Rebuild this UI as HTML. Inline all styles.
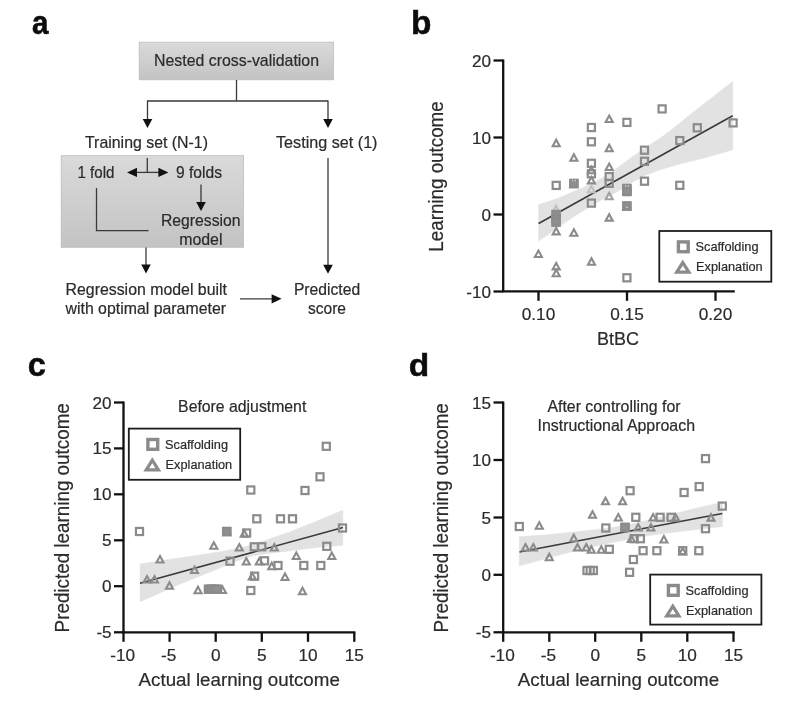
<!DOCTYPE html>
<html><head><meta charset="utf-8"><title>Figure</title>
<style>
html,body{margin:0;padding:0;background:#fff;}
body{width:799px;height:707px;overflow:hidden;}
svg{display:block;font-family:'Liberation Sans',sans-serif;}
svg text{font-family:'Liberation Sans',sans-serif;}
</style></head>
<body>
<svg width="799" height="707" viewBox="0 0 799 707" style="filter:blur(0.55px)">
<rect x="-5" y="-5" width="809" height="717" fill="#fff"/>
<defs><linearGradient id="g1" x1="0" y1="0" x2="0" y2="1"><stop offset="0" stop-color="#dadada"/><stop offset="1" stop-color="#c3c3c3"/></linearGradient></defs>
<text transform="translate(32.1,34.2) scale(0.89,1)" font-size="33.3" stroke="#0c0c0c" stroke-width="0.5" font-weight="700" fill="#0c0c0c">a</text>
<rect x="139.2" y="42.2" width="194.2" height="37.6" fill="url(#g1)" stroke="#bcbcbc" stroke-width="0.8"/>
<text x="154" y="66.2" font-size="15.9" text-anchor="start" font-weight="400" fill="#2b2b2b" stroke="#2b2b2b" stroke-width="0.2" textLength="165" lengthAdjust="spacingAndGlyphs">Nested cross-validation</text>
<path d="M236.5 80 V101 M147.5 101 H328 " stroke="#3a3a3a" stroke-width="1.3" fill="none"/>
<line x1="147.5" y1="100.4" x2="147.5" y2="120.0" stroke="#3a3a3a" stroke-width="1.3"/>
<path d="M142.7 119.0 L152.3 119.0 L147.5 128 Z" fill="#111"/>
<line x1="328" y1="100.4" x2="328" y2="120.0" stroke="#3a3a3a" stroke-width="1.3"/>
<path d="M323.2 119.0 L332.8 119.0 L328 128 Z" fill="#111"/>
<text x="85" y="147.5" font-size="15.9" text-anchor="start" font-weight="400" fill="#2b2b2b" stroke="#2b2b2b" stroke-width="0.2" textLength="123" lengthAdjust="spacingAndGlyphs">Training set (N-1)</text>
<text x="276" y="147.5" font-size="15.9" text-anchor="start" font-weight="400" fill="#2b2b2b" stroke="#2b2b2b" stroke-width="0.2" textLength="101.5" lengthAdjust="spacingAndGlyphs">Testing set (1)</text>
<rect x="61.2" y="155.7" width="182.3" height="91.6" fill="url(#g1)" stroke="#bcbcbc" stroke-width="0.8"/>
<line x1="147.3" y1="158" x2="147.3" y2="172.4" stroke="#3a3a3a" stroke-width="1.3"/>
<line x1="135" y1="172.4" x2="160" y2="172.4" stroke="#3a3a3a" stroke-width="1.3"/>
<path d="M137.0 167.8 L137.0 177.0 L127 172.4 Z" fill="#111"/>
<path d="M158.4 167.8 L158.4 177 L168.4 172.4 Z" fill="#111"/>
<text x="77.5" y="177.8" font-size="15.9" text-anchor="start" font-weight="400" fill="#2b2b2b" stroke="#2b2b2b" stroke-width="0.2" textLength="37" lengthAdjust="spacingAndGlyphs">1 fold</text>
<text x="176" y="177.8" font-size="15.9" text-anchor="start" font-weight="400" fill="#2b2b2b" stroke="#2b2b2b" stroke-width="0.2" textLength="46" lengthAdjust="spacingAndGlyphs">9 folds</text>
<line x1="201" y1="184.4" x2="201" y2="203.0" stroke="#3a3a3a" stroke-width="1.3"/>
<path d="M196.2 202.0 L205.8 202.0 L201 211 Z" fill="#111"/>
<text x="200.8" y="226.4" font-size="15.9" text-anchor="middle" font-weight="400" fill="#2b2b2b" stroke="#2b2b2b" stroke-width="0.2" textLength="79.6" lengthAdjust="spacingAndGlyphs">Regression</text>
<text x="200.8" y="245" font-size="15.9" text-anchor="middle" font-weight="400" fill="#2b2b2b" stroke="#2b2b2b" stroke-width="0.2">model</text>
<path d="M96.5 188 V230.6 H148.6" stroke="#3a3a3a" stroke-width="1.3" fill="none"/>
<line x1="146" y1="247.5" x2="146" y2="265.5" stroke="#3a3a3a" stroke-width="1.3"/>
<path d="M141.2 264.5 L150.8 264.5 L146 273.5 Z" fill="#111"/>
<text x="65.5" y="295.4" font-size="15.9" text-anchor="start" font-weight="400" fill="#2b2b2b" stroke="#2b2b2b" stroke-width="0.2" textLength="161.5" lengthAdjust="spacingAndGlyphs">Regression model built</text>
<text x="65.5" y="314.2" font-size="15.9" text-anchor="start" font-weight="400" fill="#2b2b2b" stroke="#2b2b2b" stroke-width="0.2" textLength="160.5" lengthAdjust="spacingAndGlyphs">with optimal parameter</text>
<line x1="240" y1="298.8" x2="272.6" y2="298.8" stroke="#3a3a3a" stroke-width="1.3"/>
<path d="M271.6 294.2 L271.6 303.40000000000003 L281.6 298.8 Z" fill="#111"/>
<line x1="328" y1="158" x2="328" y2="265.7" stroke="#3a3a3a" stroke-width="1.3"/>
<path d="M323.2 264.7 L332.8 264.7 L328 273.7 Z" fill="#111"/>
<text x="327" y="295.4" font-size="15.9" text-anchor="middle" font-weight="400" fill="#2b2b2b" stroke="#2b2b2b" stroke-width="0.2" textLength="66.25" lengthAdjust="spacingAndGlyphs">Predicted</text>
<text x="327" y="314.2" font-size="15.9" text-anchor="middle" font-weight="400" fill="#2b2b2b" stroke="#2b2b2b" stroke-width="0.2" textLength="38" lengthAdjust="spacingAndGlyphs">score</text>
<text transform="translate(411.0,34.4) scale(1.02,1)" font-size="32.8" stroke="#0c0c0c" stroke-width="0.5" font-weight="700" fill="#0c0c0c">b</text>
<path d="M538.6 204.6 L549.5 201.2 L560.0 197.5 L572.0 192.3 L582.6 187.8 L591.6 183.8 L600.6 178.8 L611.0 172.3 L620.0 166.0 L630.0 158.5 L645.0 148.0 L660.0 138.3 L670.6 130.5 L687.2 117.0 L709.6 99.5 L732.7 81.4 L732.7 149.8 L720.0 153.5 L705.0 157.8 L690.0 161.5 L675.0 165.3 L660.0 169.8 L645.0 175.5 L630.0 183.5 L620.0 190.0 L611.0 195.0 L600.6 200.3 L591.6 205.8 L582.6 211.1 L572.0 217.8 L560.0 226.1 L549.5 233.6 L538.6 241.0 Z" fill="#e2e2e2" stroke="#e2e2e2" stroke-width="0.6" stroke-linejoin="round"/>
<line x1="538.6" y1="223.5" x2="732.7" y2="115.7" stroke="#3a3a3a" stroke-width="1.6"/>
<path d="M503.2 59.4 V292.4 M502.1 291.3 H734.8" stroke="#111" stroke-width="2.3" fill="none"/>
<line x1="493.5" y1="60.5" x2="503.2" y2="60.5" stroke="#111" stroke-width="2.3"/>
<text x="491" y="66.5" font-size="17.1" text-anchor="end" font-weight="400" fill="#2b2b2b" stroke="#2b2b2b" stroke-width="0.2">20</text>
<line x1="493.5" y1="137.5" x2="503.2" y2="137.5" stroke="#111" stroke-width="2.3"/>
<text x="491" y="143.5" font-size="17.1" text-anchor="end" font-weight="400" fill="#2b2b2b" stroke="#2b2b2b" stroke-width="0.2">10</text>
<line x1="493.5" y1="214.5" x2="503.2" y2="214.5" stroke="#111" stroke-width="2.3"/>
<text x="491" y="220.5" font-size="17.1" text-anchor="end" font-weight="400" fill="#2b2b2b" stroke="#2b2b2b" stroke-width="0.2">0</text>
<line x1="493.5" y1="291.5" x2="503.2" y2="291.5" stroke="#111" stroke-width="2.3"/>
<text x="491" y="297.5" font-size="17.1" text-anchor="end" font-weight="400" fill="#2b2b2b" stroke="#2b2b2b" stroke-width="0.2">-10</text>
<line x1="538.5" y1="291.3" x2="538.5" y2="300.8" stroke="#111" stroke-width="2.3"/>
<text x="538.5" y="319.5" font-size="17.2" text-anchor="middle" font-weight="400" fill="#2b2b2b" stroke="#2b2b2b" stroke-width="0.2">0.10</text>
<line x1="627" y1="291.3" x2="627" y2="300.8" stroke="#111" stroke-width="2.3"/>
<text x="627" y="319.5" font-size="17.2" text-anchor="middle" font-weight="400" fill="#2b2b2b" stroke="#2b2b2b" stroke-width="0.2">0.15</text>
<line x1="715.5" y1="291.3" x2="715.5" y2="300.8" stroke="#111" stroke-width="2.3"/>
<text x="715.5" y="319.5" font-size="17.2" text-anchor="middle" font-weight="400" fill="#2b2b2b" stroke="#2b2b2b" stroke-width="0.2">0.20</text>
<text x="618" y="345" font-size="18.8" text-anchor="middle" font-weight="400" fill="#2b2b2b" stroke="#2b2b2b" stroke-width="0.2" textLength="42" lengthAdjust="spacingAndGlyphs">BtBC</text>
<text transform="translate(443.1,176.5) rotate(-90)" font-size="19.5" text-anchor="middle" fill="#2b2b2b" stroke="#2b2b2b" stroke-width="0.2" textLength="150.4" lengthAdjust="spacingAndGlyphs">Learning outcome</text>
<path d="M609.20 192.80 L612.72 199.25 L605.69 199.25 Z" fill="none" stroke="#a2a2a2" stroke-width="2.1" stroke-linejoin="miter"/>
<rect x="552.65" y="181.85" width="7.10" height="7.10" fill="none" stroke="#8b8b8b" stroke-width="2.2"/>
<rect x="570.35" y="179.95" width="7.10" height="7.10" fill="none" stroke="#8b8b8b" stroke-width="2.2"/>
<rect x="587.85" y="123.95" width="7.10" height="7.10" fill="none" stroke="#8b8b8b" stroke-width="2.2"/>
<rect x="587.85" y="138.25" width="7.10" height="7.10" fill="none" stroke="#8b8b8b" stroke-width="2.2"/>
<rect x="587.85" y="159.75" width="7.10" height="7.10" fill="none" stroke="#8b8b8b" stroke-width="2.2"/>
<rect x="587.85" y="170.25" width="7.10" height="7.10" fill="none" stroke="#8b8b8b" stroke-width="2.2"/>
<rect x="587.85" y="199.55" width="7.10" height="7.10" fill="none" stroke="#8b8b8b" stroke-width="2.2"/>
<rect x="605.65" y="173.05" width="7.10" height="7.10" fill="none" stroke="#8b8b8b" stroke-width="2.2"/>
<rect x="605.65" y="179.75" width="7.10" height="7.10" fill="none" stroke="#8b8b8b" stroke-width="2.2"/>
<rect x="623.35" y="118.85" width="7.10" height="7.10" fill="none" stroke="#8b8b8b" stroke-width="2.2"/>
<rect x="623.35" y="184.95" width="7.10" height="7.10" fill="none" stroke="#8b8b8b" stroke-width="2.2"/>
<rect x="623.35" y="187.95" width="7.10" height="7.10" fill="none" stroke="#8b8b8b" stroke-width="2.2"/>
<rect x="623.35" y="202.45" width="7.10" height="7.10" fill="none" stroke="#8b8b8b" stroke-width="2.2"/>
<rect x="640.95" y="146.65" width="7.10" height="7.10" fill="none" stroke="#8b8b8b" stroke-width="2.2"/>
<rect x="640.95" y="157.75" width="7.10" height="7.10" fill="none" stroke="#8b8b8b" stroke-width="2.2"/>
<rect x="640.95" y="177.65" width="7.10" height="7.10" fill="none" stroke="#8b8b8b" stroke-width="2.2"/>
<rect x="658.55" y="105.35" width="7.10" height="7.10" fill="none" stroke="#8b8b8b" stroke-width="2.2"/>
<rect x="676.25" y="137.05" width="7.10" height="7.10" fill="none" stroke="#8b8b8b" stroke-width="2.2"/>
<rect x="676.25" y="181.75" width="7.10" height="7.10" fill="none" stroke="#8b8b8b" stroke-width="2.2"/>
<rect x="693.75" y="124.25" width="7.10" height="7.10" fill="none" stroke="#8b8b8b" stroke-width="2.2"/>
<rect x="729.55" y="119.35" width="7.10" height="7.10" fill="none" stroke="#8b8b8b" stroke-width="2.2"/>
<rect x="623.35" y="274.25" width="7.10" height="7.10" fill="none" stroke="#8b8b8b" stroke-width="2.2"/>
<rect x="552.55" y="210.95" width="7.10" height="7.10" fill="none" stroke="#8b8b8b" stroke-width="2.2"/>
<rect x="552.55" y="214.85" width="7.10" height="7.10" fill="none" stroke="#8b8b8b" stroke-width="2.2"/>
<rect x="552.55" y="218.45" width="7.10" height="7.10" fill="none" stroke="#8b8b8b" stroke-width="2.2"/>
<path d="M556.20 139.80 L559.72 146.25 L552.69 146.25 Z" fill="none" stroke="#8b8b8b" stroke-width="2.1" stroke-linejoin="miter"/>
<path d="M573.90 154.30 L577.41 160.75 L570.38 160.75 Z" fill="none" stroke="#8b8b8b" stroke-width="2.1" stroke-linejoin="miter"/>
<path d="M609.20 115.60 L612.72 122.05 L605.69 122.05 Z" fill="none" stroke="#8b8b8b" stroke-width="2.1" stroke-linejoin="miter"/>
<path d="M609.20 144.80 L612.72 151.25 L605.69 151.25 Z" fill="none" stroke="#8b8b8b" stroke-width="2.1" stroke-linejoin="miter"/>
<path d="M609.20 163.60 L612.72 170.05 L605.69 170.05 Z" fill="none" stroke="#8b8b8b" stroke-width="2.1" stroke-linejoin="miter"/>
<path d="M591.40 166.80 L594.91 173.25 L587.88 173.25 Z" fill="none" stroke="#8b8b8b" stroke-width="2.1" stroke-linejoin="miter"/>
<path d="M591.40 176.90 L594.91 183.35 L587.88 183.35 Z" fill="none" stroke="#8b8b8b" stroke-width="2.1" stroke-linejoin="miter"/>
<path d="M609.20 214.20 L612.72 220.65 L605.69 220.65 Z" fill="none" stroke="#8b8b8b" stroke-width="2.1" stroke-linejoin="miter"/>
<path d="M556.20 227.90 L559.72 234.35 L552.69 234.35 Z" fill="none" stroke="#8b8b8b" stroke-width="2.1" stroke-linejoin="miter"/>
<path d="M573.90 229.30 L577.41 235.75 L570.38 235.75 Z" fill="none" stroke="#8b8b8b" stroke-width="2.1" stroke-linejoin="miter"/>
<path d="M538.40 250.60 L541.91 257.05 L534.88 257.05 Z" fill="none" stroke="#8b8b8b" stroke-width="2.1" stroke-linejoin="miter"/>
<path d="M556.20 262.90 L559.72 269.35 L552.69 269.35 Z" fill="none" stroke="#8b8b8b" stroke-width="2.1" stroke-linejoin="miter"/>
<path d="M556.20 269.80 L559.72 276.25 L552.69 276.25 Z" fill="none" stroke="#8b8b8b" stroke-width="2.1" stroke-linejoin="miter"/>
<path d="M591.50 258.30 L595.01 264.75 L587.99 264.75 Z" fill="none" stroke="#8b8b8b" stroke-width="2.1" stroke-linejoin="miter"/>
<path d="M573.90 180.80 L577.41 187.25 L570.38 187.25 Z" fill="none" stroke="#8b8b8b" stroke-width="2.1" stroke-linejoin="miter"/>
<path d="M626.90 187.30 L630.41 193.75 L623.38 193.75 Z" fill="none" stroke="#8b8b8b" stroke-width="2.1" stroke-linejoin="miter"/>
<path d="M626.90 203.30 L630.41 209.75 L623.38 209.75 Z" fill="none" stroke="#8b8b8b" stroke-width="2.1" stroke-linejoin="miter"/>
<path d="M591.40 186.00 L594.91 192.45 L587.88 192.45 Z" fill="none" stroke="#c0c0c0" stroke-width="2.1" stroke-linejoin="miter"/>
<path d="M556.10 205.80 L559.62 212.25 L552.59 212.25 Z" fill="none" stroke="#c0c0c0" stroke-width="2.1" stroke-linejoin="miter"/>
<rect x="570.35" y="179.95" width="7.10" height="7.10" fill="#8f8f8f" stroke="#8b8b8b" stroke-width="2.2"/>
<rect x="623.35" y="184.95" width="7.10" height="7.10" fill="#8f8f8f" stroke="#8b8b8b" stroke-width="2.2"/>
<rect x="623.35" y="187.95" width="7.10" height="7.10" fill="#8f8f8f" stroke="#8b8b8b" stroke-width="2.2"/>
<rect x="623.35" y="202.45" width="7.10" height="7.10" fill="#8f8f8f" stroke="#8b8b8b" stroke-width="2.2"/>
<rect x="552.55" y="210.95" width="7.10" height="7.10" fill="#8f8f8f" stroke="#8b8b8b" stroke-width="2.2"/>
<rect x="552.55" y="214.85" width="7.10" height="7.10" fill="#8f8f8f" stroke="#8b8b8b" stroke-width="2.2"/>
<rect x="552.55" y="218.45" width="7.10" height="7.10" fill="#8f8f8f" stroke="#8b8b8b" stroke-width="2.2"/>
<path d="M572.6 180.6h0.1M575.2 180.6h0.1M625.6 186h0.1M628.2 186h0.1M626.9 207.4h0.1" stroke="#e8e8e8" stroke-width="1.3" stroke-linecap="round"/>
<rect x="659.3" y="231" width="112" height="50.7" fill="#fff" stroke="#1c1c1c" stroke-width="1.8"/>
<rect x="678.40" y="241.90" width="9.80" height="9.80" fill="none" stroke="#8b8b8b" stroke-width="3.4"/>
<path d="M682.80 262.60 L688.90 272.20 L676.70 272.20 Z" fill="none" stroke="#8b8b8b" stroke-width="3.2"/>
<text x="695.5" y="251.3" font-size="13.3" text-anchor="start" font-weight="400" fill="#2b2b2b" stroke="#2b2b2b" stroke-width="0.2" textLength="63" lengthAdjust="spacingAndGlyphs">Scaffolding</text>
<text x="696.0999999999999" y="271.2" font-size="13.3" text-anchor="start" font-weight="400" fill="#2b2b2b" stroke="#2b2b2b" stroke-width="0.2" textLength="66.6" lengthAdjust="spacingAndGlyphs">Explanation</text>
<text transform="translate(27.7,376.0) scale(0.99,1)" font-size="33" stroke="#0c0c0c" stroke-width="0.5" font-weight="700" fill="#0c0c0c">c</text>
<path d="M140.1 564.0 L167.4 559.7 L196.2 555.6 L225.0 551.0 L245.1 546.7 L265.3 540.4 L288.3 532.6 L314.2 522.2 L342.8 510.2 L342.8 545.3 L320.0 547.0 L297.0 549.9 L273.9 552.8 L253.8 555.6 L233.6 562.0 L219.2 568.3 L199.1 576.4 L178.9 584.4 L158.8 593.6 L140.1 601.7 Z" fill="#e2e2e2" stroke="#e2e2e2" stroke-width="0.6" stroke-linejoin="round"/>
<line x1="140" y1="583.3" x2="343" y2="527.5" stroke="#3a3a3a" stroke-width="1.6"/>
<path d="M123.5 401.5 V633.4 M122.4 632.4 H355.4" stroke="#111" stroke-width="2.3" fill="none"/>
<line x1="114" y1="402.5" x2="123.5" y2="402.5" stroke="#111" stroke-width="2.3"/>
<text x="111.6" y="408.5" font-size="17.1" text-anchor="end" font-weight="400" fill="#2b2b2b" stroke="#2b2b2b" stroke-width="0.2">20</text>
<line x1="114" y1="448.4" x2="123.5" y2="448.4" stroke="#111" stroke-width="2.3"/>
<text x="111.6" y="454.4" font-size="17.1" text-anchor="end" font-weight="400" fill="#2b2b2b" stroke="#2b2b2b" stroke-width="0.2">15</text>
<line x1="114" y1="494.3" x2="123.5" y2="494.3" stroke="#111" stroke-width="2.3"/>
<text x="111.6" y="500.3" font-size="17.1" text-anchor="end" font-weight="400" fill="#2b2b2b" stroke="#2b2b2b" stroke-width="0.2">10</text>
<line x1="114" y1="540.3" x2="123.5" y2="540.3" stroke="#111" stroke-width="2.3"/>
<text x="111.6" y="546.3" font-size="17.1" text-anchor="end" font-weight="400" fill="#2b2b2b" stroke="#2b2b2b" stroke-width="0.2">5</text>
<line x1="114" y1="586.2" x2="123.5" y2="586.2" stroke="#111" stroke-width="2.3"/>
<text x="111.6" y="592.2" font-size="17.1" text-anchor="end" font-weight="400" fill="#2b2b2b" stroke="#2b2b2b" stroke-width="0.2">0</text>
<line x1="114" y1="632.3" x2="123.5" y2="632.3" stroke="#111" stroke-width="2.3"/>
<text x="111.6" y="638.3" font-size="17.1" text-anchor="end" font-weight="400" fill="#2b2b2b" stroke="#2b2b2b" stroke-width="0.2">-5</text>
<line x1="123.5" y1="632.4" x2="123.5" y2="641.8" stroke="#111" stroke-width="2.3"/>
<text x="122.6" y="661.2" font-size="17.2" text-anchor="middle" font-weight="400" fill="#2b2b2b" stroke="#2b2b2b" stroke-width="0.2">-10</text>
<line x1="169.6" y1="632.4" x2="169.6" y2="641.8" stroke="#111" stroke-width="2.3"/>
<text x="168.7" y="661.2" font-size="17.2" text-anchor="middle" font-weight="400" fill="#2b2b2b" stroke="#2b2b2b" stroke-width="0.2">-5</text>
<line x1="215.7" y1="632.4" x2="215.7" y2="641.8" stroke="#111" stroke-width="2.3"/>
<text x="215.7" y="661.2" font-size="17.2" text-anchor="middle" font-weight="400" fill="#2b2b2b" stroke="#2b2b2b" stroke-width="0.2">0</text>
<line x1="261.8" y1="632.4" x2="261.8" y2="641.8" stroke="#111" stroke-width="2.3"/>
<text x="261.8" y="661.2" font-size="17.2" text-anchor="middle" font-weight="400" fill="#2b2b2b" stroke="#2b2b2b" stroke-width="0.2">5</text>
<line x1="308" y1="632.4" x2="308" y2="641.8" stroke="#111" stroke-width="2.3"/>
<text x="308" y="661.2" font-size="17.2" text-anchor="middle" font-weight="400" fill="#2b2b2b" stroke="#2b2b2b" stroke-width="0.2">10</text>
<line x1="354.3" y1="632.4" x2="354.3" y2="641.8" stroke="#111" stroke-width="2.3"/>
<text x="354.3" y="661.2" font-size="17.2" text-anchor="middle" font-weight="400" fill="#2b2b2b" stroke="#2b2b2b" stroke-width="0.2">15</text>
<text x="239.2" y="686.3" font-size="19.1" text-anchor="middle" font-weight="400" fill="#2b2b2b" stroke="#2b2b2b" stroke-width="0.2" textLength="201.3" lengthAdjust="spacingAndGlyphs">Actual learning outcome</text>
<text transform="translate(69.0,517.8) rotate(-90)" font-size="19.4" text-anchor="middle" fill="#2b2b2b" stroke="#2b2b2b" stroke-width="0.2" textLength="229.2" lengthAdjust="spacingAndGlyphs">Predicted learning outcome</text>
<text x="242.2" y="412.3" font-size="15.9" text-anchor="middle" font-weight="400" fill="#2b2b2b" stroke="#2b2b2b" stroke-width="0.2" textLength="128.2" lengthAdjust="spacingAndGlyphs">Before adjustment</text>
<rect x="135.95" y="527.95" width="7.10" height="7.10" fill="none" stroke="#8b8b8b" stroke-width="2.2"/>
<rect x="322.75" y="442.75" width="7.10" height="7.10" fill="none" stroke="#8b8b8b" stroke-width="2.2"/>
<rect x="316.45" y="473.25" width="7.10" height="7.10" fill="none" stroke="#8b8b8b" stroke-width="2.2"/>
<rect x="247.25" y="486.45" width="7.10" height="7.10" fill="none" stroke="#8b8b8b" stroke-width="2.2"/>
<rect x="301.45" y="486.95" width="7.10" height="7.10" fill="none" stroke="#8b8b8b" stroke-width="2.2"/>
<rect x="253.25" y="515.25" width="7.10" height="7.10" fill="none" stroke="#8b8b8b" stroke-width="2.2"/>
<rect x="276.95" y="515.25" width="7.10" height="7.10" fill="none" stroke="#8b8b8b" stroke-width="2.2"/>
<rect x="288.95" y="515.25" width="7.10" height="7.10" fill="none" stroke="#8b8b8b" stroke-width="2.2"/>
<rect x="338.95" y="524.45" width="7.10" height="7.10" fill="none" stroke="#8b8b8b" stroke-width="2.2"/>
<rect x="223.25" y="527.95" width="7.10" height="7.10" fill="none" stroke="#8b8b8b" stroke-width="2.2"/>
<rect x="243.05" y="529.45" width="7.10" height="7.10" fill="none" stroke="#8b8b8b" stroke-width="2.2"/>
<rect x="250.75" y="543.25" width="7.10" height="7.10" fill="none" stroke="#8b8b8b" stroke-width="2.2"/>
<rect x="258.25" y="543.25" width="7.10" height="7.10" fill="none" stroke="#8b8b8b" stroke-width="2.2"/>
<rect x="323.25" y="542.75" width="7.10" height="7.10" fill="none" stroke="#8b8b8b" stroke-width="2.2"/>
<rect x="226.45" y="557.65" width="7.10" height="7.10" fill="none" stroke="#8b8b8b" stroke-width="2.2"/>
<rect x="260.95" y="557.25" width="7.10" height="7.10" fill="none" stroke="#8b8b8b" stroke-width="2.2"/>
<rect x="274.45" y="561.95" width="7.10" height="7.10" fill="none" stroke="#8b8b8b" stroke-width="2.2"/>
<rect x="300.25" y="561.95" width="7.10" height="7.10" fill="none" stroke="#8b8b8b" stroke-width="2.2"/>
<rect x="317.25" y="561.95" width="7.10" height="7.10" fill="none" stroke="#8b8b8b" stroke-width="2.2"/>
<rect x="251.05" y="572.65" width="7.10" height="7.10" fill="none" stroke="#8b8b8b" stroke-width="2.2"/>
<rect x="247.25" y="586.95" width="7.10" height="7.10" fill="none" stroke="#8b8b8b" stroke-width="2.2"/>
<rect x="204.95" y="585.75" width="7.10" height="7.10" fill="none" stroke="#8b8b8b" stroke-width="2.2"/>
<rect x="207.95" y="585.75" width="7.10" height="7.10" fill="none" stroke="#8b8b8b" stroke-width="2.2"/>
<rect x="210.95" y="585.75" width="7.10" height="7.10" fill="none" stroke="#8b8b8b" stroke-width="2.2"/>
<rect x="213.95" y="585.75" width="7.10" height="7.10" fill="none" stroke="#8b8b8b" stroke-width="2.2"/>
<path d="M160.00 556.10 L163.51 562.55 L156.49 562.55 Z" fill="none" stroke="#8b8b8b" stroke-width="2.1" stroke-linejoin="miter"/>
<path d="M147.00 576.10 L150.51 582.55 L143.49 582.55 Z" fill="none" stroke="#8b8b8b" stroke-width="2.1" stroke-linejoin="miter"/>
<path d="M154.50 576.10 L158.01 582.55 L150.99 582.55 Z" fill="none" stroke="#8b8b8b" stroke-width="2.1" stroke-linejoin="miter"/>
<path d="M169.50 582.30 L173.01 588.75 L165.99 588.75 Z" fill="none" stroke="#8b8b8b" stroke-width="2.1" stroke-linejoin="miter"/>
<path d="M194.50 566.60 L198.01 573.05 L190.99 573.05 Z" fill="none" stroke="#8b8b8b" stroke-width="2.1" stroke-linejoin="miter"/>
<path d="M198.00 586.80 L201.51 593.25 L194.49 593.25 Z" fill="none" stroke="#8b8b8b" stroke-width="2.1" stroke-linejoin="miter"/>
<path d="M222.50 586.60 L226.01 593.05 L218.99 593.05 Z" fill="none" stroke="#8b8b8b" stroke-width="2.1" stroke-linejoin="miter"/>
<path d="M213.80 542.30 L217.31 548.75 L210.29 548.75 Z" fill="none" stroke="#8b8b8b" stroke-width="2.1" stroke-linejoin="miter"/>
<path d="M239.30 544.10 L242.81 550.55 L235.79 550.55 Z" fill="none" stroke="#8b8b8b" stroke-width="2.1" stroke-linejoin="miter"/>
<path d="M244.30 530.30 L247.81 536.75 L240.79 536.75 Z" fill="none" stroke="#8b8b8b" stroke-width="2.1" stroke-linejoin="miter"/>
<path d="M274.30 544.10 L277.81 550.55 L270.79 550.55 Z" fill="none" stroke="#8b8b8b" stroke-width="2.1" stroke-linejoin="miter"/>
<path d="M296.30 552.50 L299.81 558.95 L292.79 558.95 Z" fill="none" stroke="#8b8b8b" stroke-width="2.1" stroke-linejoin="miter"/>
<path d="M331.80 552.50 L335.31 558.95 L328.29 558.95 Z" fill="none" stroke="#8b8b8b" stroke-width="2.1" stroke-linejoin="miter"/>
<path d="M246.30 558.10 L249.81 564.55 L242.79 564.55 Z" fill="none" stroke="#8b8b8b" stroke-width="2.1" stroke-linejoin="miter"/>
<path d="M259.30 558.10 L262.81 564.55 L255.79 564.55 Z" fill="none" stroke="#8b8b8b" stroke-width="2.1" stroke-linejoin="miter"/>
<path d="M271.80 562.80 L275.31 569.25 L268.29 569.25 Z" fill="none" stroke="#8b8b8b" stroke-width="2.1" stroke-linejoin="miter"/>
<path d="M285.00 573.50 L288.51 579.95 L281.49 579.95 Z" fill="none" stroke="#8b8b8b" stroke-width="2.1" stroke-linejoin="miter"/>
<path d="M252.30 572.90 L255.81 579.35 L248.79 579.35 Z" fill="none" stroke="#8b8b8b" stroke-width="2.1" stroke-linejoin="miter"/>
<path d="M302.50 587.80 L306.01 594.25 L298.99 594.25 Z" fill="none" stroke="#8b8b8b" stroke-width="2.1" stroke-linejoin="miter"/>
<path d="M226.80 528.80 L230.31 535.25 L223.29 535.25 Z" fill="none" stroke="#8b8b8b" stroke-width="2.1" stroke-linejoin="miter"/>
<rect x="223.25" y="527.95" width="7.10" height="7.10" fill="#909090" stroke="#8b8b8b" stroke-width="2.2"/>
<rect x="204.95" y="585.75" width="7.10" height="7.10" fill="#909090" stroke="#8b8b8b" stroke-width="2.2"/>
<rect x="207.95" y="585.75" width="7.10" height="7.10" fill="#909090" stroke="#8b8b8b" stroke-width="2.2"/>
<rect x="210.95" y="585.75" width="7.10" height="7.10" fill="#909090" stroke="#8b8b8b" stroke-width="2.2"/>
<rect x="213.95" y="585.75" width="7.10" height="7.10" fill="#909090" stroke="#8b8b8b" stroke-width="2.2"/>
<rect x="128.8" y="428.6" width="111.4" height="51.2" fill="#fff" stroke="#1c1c1c" stroke-width="1.8"/>
<rect x="147.90" y="439.50" width="9.80" height="9.80" fill="none" stroke="#8b8b8b" stroke-width="3.4"/>
<path d="M152.30 460.20 L158.40 469.80 L146.20 469.80 Z" fill="none" stroke="#8b8b8b" stroke-width="3.2"/>
<text x="165.0" y="448.90000000000003" font-size="13.3" text-anchor="start" font-weight="400" fill="#2b2b2b" stroke="#2b2b2b" stroke-width="0.2" textLength="63" lengthAdjust="spacingAndGlyphs">Scaffolding</text>
<text x="165.60000000000002" y="468.8" font-size="13.3" text-anchor="start" font-weight="400" fill="#2b2b2b" stroke="#2b2b2b" stroke-width="0.2" textLength="66.6" lengthAdjust="spacingAndGlyphs">Explanation</text>
<text transform="translate(408.7,375.5) scale(1.04,1)" font-size="32.2" stroke="#0c0c0c" stroke-width="0.5" font-weight="700" fill="#0c0c0c">d</text>
<path d="M519.3 536.7 L547.4 534.7 L576.2 531.8 L602.1 528.9 L625.1 525.5 L648.2 520.3 L671.2 514.5 L694.2 508.8 L722.4 502.2 L722.4 526.6 L688.5 530.4 L665.4 533.3 L645.3 536.1 L625.1 539.9 L605.0 543.9 L584.8 548.5 L561.8 554.3 L538.8 560.6 L519.3 565.8 Z" fill="#e2e2e2" stroke="#e2e2e2" stroke-width="0.6" stroke-linejoin="round"/>
<line x1="519.5" y1="552" x2="722.3" y2="513.5" stroke="#3a3a3a" stroke-width="1.6"/>
<path d="M503.2 401.5 V633.4 M502.1 632.4 H734.7" stroke="#111" stroke-width="2.3" fill="none"/>
<line x1="493.5" y1="402.5" x2="503.2" y2="402.5" stroke="#111" stroke-width="2.3"/>
<text x="491" y="408.5" font-size="17.1" text-anchor="end" font-weight="400" fill="#2b2b2b" stroke="#2b2b2b" stroke-width="0.2">15</text>
<line x1="493.5" y1="460" x2="503.2" y2="460" stroke="#111" stroke-width="2.3"/>
<text x="491" y="466.0" font-size="17.1" text-anchor="end" font-weight="400" fill="#2b2b2b" stroke="#2b2b2b" stroke-width="0.2">10</text>
<line x1="493.5" y1="517.5" x2="503.2" y2="517.5" stroke="#111" stroke-width="2.3"/>
<text x="491" y="523.5" font-size="17.1" text-anchor="end" font-weight="400" fill="#2b2b2b" stroke="#2b2b2b" stroke-width="0.2">5</text>
<line x1="493.5" y1="574.8" x2="503.2" y2="574.8" stroke="#111" stroke-width="2.3"/>
<text x="491" y="580.8" font-size="17.1" text-anchor="end" font-weight="400" fill="#2b2b2b" stroke="#2b2b2b" stroke-width="0.2">0</text>
<line x1="493.5" y1="632.3" x2="503.2" y2="632.3" stroke="#111" stroke-width="2.3"/>
<text x="491" y="638.3" font-size="17.1" text-anchor="end" font-weight="400" fill="#2b2b2b" stroke="#2b2b2b" stroke-width="0.2">-5</text>
<line x1="503.2" y1="632.4" x2="503.2" y2="641.8" stroke="#111" stroke-width="2.3"/>
<text x="502.3" y="661.2" font-size="17.2" text-anchor="middle" font-weight="400" fill="#2b2b2b" stroke="#2b2b2b" stroke-width="0.2">-10</text>
<line x1="549.3" y1="632.4" x2="549.3" y2="641.8" stroke="#111" stroke-width="2.3"/>
<text x="548.4" y="661.2" font-size="17.2" text-anchor="middle" font-weight="400" fill="#2b2b2b" stroke="#2b2b2b" stroke-width="0.2">-5</text>
<line x1="595.2" y1="632.4" x2="595.2" y2="641.8" stroke="#111" stroke-width="2.3"/>
<text x="595.2" y="661.2" font-size="17.2" text-anchor="middle" font-weight="400" fill="#2b2b2b" stroke="#2b2b2b" stroke-width="0.2">0</text>
<line x1="641.3" y1="632.4" x2="641.3" y2="641.8" stroke="#111" stroke-width="2.3"/>
<text x="641.3" y="661.2" font-size="17.2" text-anchor="middle" font-weight="400" fill="#2b2b2b" stroke="#2b2b2b" stroke-width="0.2">5</text>
<line x1="687.3" y1="632.4" x2="687.3" y2="641.8" stroke="#111" stroke-width="2.3"/>
<text x="687.3" y="661.2" font-size="17.2" text-anchor="middle" font-weight="400" fill="#2b2b2b" stroke="#2b2b2b" stroke-width="0.2">10</text>
<line x1="733.5" y1="632.4" x2="733.5" y2="641.8" stroke="#111" stroke-width="2.3"/>
<text x="733.5" y="661.2" font-size="17.2" text-anchor="middle" font-weight="400" fill="#2b2b2b" stroke="#2b2b2b" stroke-width="0.2">15</text>
<text x="618.5" y="686.3" font-size="19.1" text-anchor="middle" font-weight="400" fill="#2b2b2b" stroke="#2b2b2b" stroke-width="0.2" textLength="201.3" lengthAdjust="spacingAndGlyphs">Actual learning outcome</text>
<text transform="translate(448.4,517.8) rotate(-90)" font-size="19.4" text-anchor="middle" fill="#2b2b2b" stroke="#2b2b2b" stroke-width="0.2" textLength="229.2" lengthAdjust="spacingAndGlyphs">Predicted learning outcome</text>
<text x="614" y="412.2" font-size="15.9" text-anchor="middle" font-weight="400" fill="#2b2b2b" stroke="#2b2b2b" stroke-width="0.2" textLength="133" lengthAdjust="spacingAndGlyphs">After controlling for</text>
<text x="616.3" y="431" font-size="15.9" text-anchor="middle" font-weight="400" fill="#2b2b2b" stroke="#2b2b2b" stroke-width="0.2" textLength="157.5" lengthAdjust="spacingAndGlyphs">Instructional Approach</text>
<rect x="515.75" y="522.95" width="7.10" height="7.10" fill="none" stroke="#8b8b8b" stroke-width="2.2"/>
<rect x="626.55" y="487.15" width="7.10" height="7.10" fill="none" stroke="#8b8b8b" stroke-width="2.2"/>
<rect x="680.55" y="488.95" width="7.10" height="7.10" fill="none" stroke="#8b8b8b" stroke-width="2.2"/>
<rect x="695.65" y="483.05" width="7.10" height="7.10" fill="none" stroke="#8b8b8b" stroke-width="2.2"/>
<rect x="701.95" y="455.05" width="7.10" height="7.10" fill="none" stroke="#8b8b8b" stroke-width="2.2"/>
<rect x="718.75" y="502.55" width="7.10" height="7.10" fill="none" stroke="#8b8b8b" stroke-width="2.2"/>
<rect x="701.95" y="525.15" width="7.10" height="7.10" fill="none" stroke="#8b8b8b" stroke-width="2.2"/>
<rect x="632.25" y="513.75" width="7.10" height="7.10" fill="none" stroke="#8b8b8b" stroke-width="2.2"/>
<rect x="656.55" y="513.75" width="7.10" height="7.10" fill="none" stroke="#8b8b8b" stroke-width="2.2"/>
<rect x="667.55" y="513.75" width="7.10" height="7.10" fill="none" stroke="#8b8b8b" stroke-width="2.2"/>
<rect x="602.25" y="524.45" width="7.10" height="7.10" fill="none" stroke="#8b8b8b" stroke-width="2.2"/>
<rect x="621.45" y="523.85" width="7.10" height="7.10" fill="none" stroke="#8b8b8b" stroke-width="2.2"/>
<rect x="636.85" y="535.15" width="7.10" height="7.10" fill="none" stroke="#8b8b8b" stroke-width="2.2"/>
<rect x="630.65" y="535.15" width="7.10" height="7.10" fill="none" stroke="#8b8b8b" stroke-width="2.2"/>
<rect x="605.75" y="545.75" width="7.10" height="7.10" fill="none" stroke="#8b8b8b" stroke-width="2.2"/>
<rect x="639.55" y="547.15" width="7.10" height="7.10" fill="none" stroke="#8b8b8b" stroke-width="2.2"/>
<rect x="653.35" y="547.15" width="7.10" height="7.10" fill="none" stroke="#8b8b8b" stroke-width="2.2"/>
<rect x="679.15" y="547.15" width="7.10" height="7.10" fill="none" stroke="#8b8b8b" stroke-width="2.2"/>
<rect x="695.25" y="547.15" width="7.10" height="7.10" fill="none" stroke="#8b8b8b" stroke-width="2.2"/>
<rect x="629.85" y="555.95" width="7.10" height="7.10" fill="none" stroke="#8b8b8b" stroke-width="2.2"/>
<rect x="626.05" y="568.75" width="7.10" height="7.10" fill="none" stroke="#8b8b8b" stroke-width="2.2"/>
<rect x="583.45" y="566.95" width="7.10" height="7.10" fill="none" stroke="#8b8b8b" stroke-width="2.2"/>
<rect x="586.65" y="566.95" width="7.10" height="7.10" fill="none" stroke="#8b8b8b" stroke-width="2.2"/>
<rect x="589.85" y="566.95" width="7.10" height="7.10" fill="none" stroke="#8b8b8b" stroke-width="2.2"/>
<path d="M539.30 522.30 L542.81 528.75 L535.78 528.75 Z" fill="none" stroke="#8b8b8b" stroke-width="2.1" stroke-linejoin="miter"/>
<path d="M605.50 497.80 L609.01 504.25 L601.99 504.25 Z" fill="none" stroke="#8b8b8b" stroke-width="2.1" stroke-linejoin="miter"/>
<path d="M622.60 497.80 L626.12 504.25 L619.09 504.25 Z" fill="none" stroke="#8b8b8b" stroke-width="2.1" stroke-linejoin="miter"/>
<path d="M592.50 511.30 L596.01 517.75 L588.99 517.75 Z" fill="none" stroke="#8b8b8b" stroke-width="2.1" stroke-linejoin="miter"/>
<path d="M618.30 514.10 L621.81 520.55 L614.78 520.55 Z" fill="none" stroke="#8b8b8b" stroke-width="2.1" stroke-linejoin="miter"/>
<path d="M653.10 514.10 L656.62 520.55 L649.59 520.55 Z" fill="none" stroke="#8b8b8b" stroke-width="2.1" stroke-linejoin="miter"/>
<path d="M675.50 514.10 L679.01 520.55 L671.99 520.55 Z" fill="none" stroke="#8b8b8b" stroke-width="2.1" stroke-linejoin="miter"/>
<path d="M711.00 514.20 L714.51 520.65 L707.49 520.65 Z" fill="none" stroke="#8b8b8b" stroke-width="2.1" stroke-linejoin="miter"/>
<path d="M638.20 524.10 L641.72 530.55 L634.69 530.55 Z" fill="none" stroke="#8b8b8b" stroke-width="2.1" stroke-linejoin="miter"/>
<path d="M650.90 524.10 L654.41 530.55 L647.38 530.55 Z" fill="none" stroke="#8b8b8b" stroke-width="2.1" stroke-linejoin="miter"/>
<path d="M573.80 534.80 L577.31 541.25 L570.28 541.25 Z" fill="none" stroke="#8b8b8b" stroke-width="2.1" stroke-linejoin="miter"/>
<path d="M663.90 536.00 L667.41 542.45 L660.38 542.45 Z" fill="none" stroke="#8b8b8b" stroke-width="2.1" stroke-linejoin="miter"/>
<path d="M631.30 535.60 L634.81 542.05 L627.78 542.05 Z" fill="none" stroke="#8b8b8b" stroke-width="2.1" stroke-linejoin="miter"/>
<path d="M525.50 544.10 L529.01 550.55 L521.99 550.55 Z" fill="none" stroke="#8b8b8b" stroke-width="2.1" stroke-linejoin="miter"/>
<path d="M533.30 544.10 L536.81 550.55 L529.78 550.55 Z" fill="none" stroke="#8b8b8b" stroke-width="2.1" stroke-linejoin="miter"/>
<path d="M577.50 544.10 L581.01 550.55 L573.99 550.55 Z" fill="none" stroke="#8b8b8b" stroke-width="2.1" stroke-linejoin="miter"/>
<path d="M586.30 544.10 L589.81 550.55 L582.78 550.55 Z" fill="none" stroke="#8b8b8b" stroke-width="2.1" stroke-linejoin="miter"/>
<path d="M591.30 546.30 L594.81 552.75 L587.78 552.75 Z" fill="none" stroke="#8b8b8b" stroke-width="2.1" stroke-linejoin="miter"/>
<path d="M601.30 546.30 L604.81 552.75 L597.78 552.75 Z" fill="none" stroke="#8b8b8b" stroke-width="2.1" stroke-linejoin="miter"/>
<path d="M549.30 553.80 L552.81 560.25 L545.78 560.25 Z" fill="none" stroke="#8b8b8b" stroke-width="2.1" stroke-linejoin="miter"/>
<path d="M682.70 548.00 L686.22 554.45 L679.19 554.45 Z" fill="none" stroke="#8b8b8b" stroke-width="2.1" stroke-linejoin="miter"/>
<path d="M625.00 524.70 L628.51 531.15 L621.49 531.15 Z" fill="none" stroke="#8b8b8b" stroke-width="2.1" stroke-linejoin="miter"/>
<rect x="621.45" y="523.85" width="7.10" height="7.10" fill="#909090" stroke="#8b8b8b" stroke-width="2.2"/>
<rect x="650.2" y="574.6" width="111.2" height="50" fill="#fff" stroke="#1c1c1c" stroke-width="1.8"/>
<rect x="668.40" y="585.50" width="9.80" height="9.80" fill="none" stroke="#8b8b8b" stroke-width="3.4"/>
<path d="M672.80 606.20 L678.90 615.80 L666.70 615.80 Z" fill="none" stroke="#8b8b8b" stroke-width="3.2"/>
<text x="685.5000000000001" y="594.9" font-size="13.3" text-anchor="start" font-weight="400" fill="#2b2b2b" stroke="#2b2b2b" stroke-width="0.2" textLength="63" lengthAdjust="spacingAndGlyphs">Scaffolding</text>
<text x="686.1" y="614.8000000000001" font-size="13.3" text-anchor="start" font-weight="400" fill="#2b2b2b" stroke="#2b2b2b" stroke-width="0.2" textLength="66.6" lengthAdjust="spacingAndGlyphs">Explanation</text>
</svg>
</body></html>
